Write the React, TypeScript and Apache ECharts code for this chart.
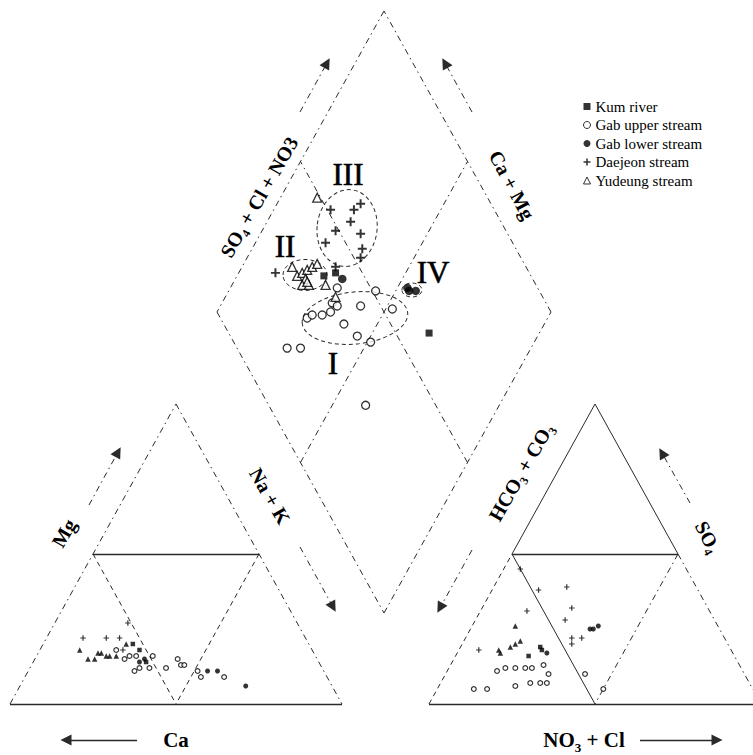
import { useEffect, useRef } from 'react';
import * as echarts from 'echarts';

// ---------- DATA ----------
const SERIES_NAMES = ['Kum river', 'Gab upper stream', 'Gab lower stream', 'Daejeon stream', 'Yudeung stream'];

// Cation triangle values: [Mg %, Na+K %]  (Ca = remainder)
const kumCation = [[20, 27], [18, 30], [14, 34]];
const gabUpperCation = [[18, 23], [15, 27], [16, 28], [16, 30], [12, 33], [11, 32], [12, 36], [16, 35], [12, 41], [15, 43], [13, 45], [13, 46], [11, 51], [9, 53], [9, 60]];
const gabLowerCation = [[14, 32], [15, 33], [11, 54], [11, 57], [6, 68]];
const daejeonCation = [[22, 11], [22, 18], [22, 22], [27, 22], [18, 25]];
const yudeungCation = [[18, 12], [15, 16], [15, 18], [17, 18], [17, 19], [16, 21], [16, 22], [16, 24], [20, 25]];

// Anion triangle values: [SO4 %, NO3+Cl %]  (HCO3+CO3 = remainder)
const kumAnion = [[19, 24], [18, 25], [16, 22]];
const gabUpperAnion = [[11, 15], [12, 17], [12, 20], [12, 23], [12, 25], [13, 28], [10, 31], [10, 42], [5, 11], [5, 15], [6, 23], [7, 27], [7, 30], [7, 32], [5, 50]];
const gabLowerAnion = [[25, 36], [25, 37], [26, 38], [17, 27]];
const daejeonAnion = [[45, 5], [38, 14], [39, 22], [31, 14], [32, 27], [28, 27], [22, 32], [22, 35], [20, 33], [18, 6]];
const yudeungAnion = [[26, 13], [21, 17], [20, 16], [19, 15], [18, 12], [17, 13]];

// Diamond values: [SO4+Cl+NO3 %, Ca+Mg %]
const kumDiamond = [[38, 74], [42, 71], [60, 33]];
const gabUpperDiamond = [[40, 68], [51, 56], [36, 67], [37, 65], [44, 58], [26, 72], [28, 71], [31, 68], [34, 66], [53, 48], [36, 60], [38, 54], [41, 49], [15, 73], [19, 69], [29, 40]];
const gabLowerDiamond = [[43, 68], [61, 47], [61, 46], [63, 44]];
const daejeonDiamond = [[51, 83], [58, 76], [61, 75], [49, 78], [55, 75], [44, 79], [56, 70], [54, 67], [52, 66], [24, 89], [43, 72]];
const yudeungDiamond = [[49, 89], [30, 85], [30, 82], [32, 81], [34, 80], [36, 79], [38, 78], [32, 79], [30, 79], [32, 77], [32, 78], [37, 72], [38, 67]];

// Groups (ellipses) in diamond values: [SO4+Cl+NO3 %, Ca+Mg %]
const groupLabels = ['I', 'II', 'III', 'IV'];
const groupCenters = [[40.3, 57.7], [32.5, 79.8], [52.9, 75.0], [62.0, 45.3]];

// ---------- LAYOUT ----------
const W = 753;
const H = 755;
const LEFT_TRI = { x0: 10, x1: 342, base: 704, apex: 404 };
const RIGHT_TRI = { x0: 429, x1: 761, base: 704, apex: 404 };
const DIAMOND = { cx: 384, cy: 312, hw: 167, hh: 301 };
const FONT = 'Liberation Serif';
const INK = '#2a2a2a';
const DASHDOT = [6, 4, 1.5, 4];
const DASH = [5, 4];

function triPoint(t: any, top: number, right: number) {
  const s = t.x1 - t.x0;
  const h = t.base - t.apex;
  return [t.x0 + (right / 100) * s + (top / 100) * s / 2, t.base - (top / 100) * h];
}
function diaPoint(u: number, v: number) {
  return [DIAMOND.cx + ((u - v) / 100) * DIAMOND.hw, DIAMOND.cy + DIAMOND.hh - ((u + v) / 100) * DIAMOND.hh];
}
const cat = (a: number, b: number) => triPoint(LEFT_TRI, a, b);
const an = (a: number, b: number) => triPoint(RIGHT_TRI, a, b);

const PLUS = 'path://M3.9,0H6.1V3.9H10V6.1H6.1V10H3.9V6.1H0V3.9H3.9Z';

const BLACK = { color: '#000' };
const OPEN = { color: '#fff', borderColor: '#000', borderWidth: 1.3 };

const MARKERS: any = {
  'Kum river': { symbol: 'rect', big: 7, small: 4.5, bigStyle: BLACK, smallStyle: BLACK },
  'Gab upper stream': { symbol: 'circle', big: 8, small: 4.8, bigStyle: OPEN, smallStyle: { color: '#fff', borderColor: '#000', borderWidth: 1.2 } },
  'Gab lower stream': { symbol: 'circle', big: 8.5, small: 5, bigStyle: BLACK, smallStyle: BLACK },
  'Daejeon stream': { symbol: PLUS, big: 9, small: 5.5, bigStyle: BLACK, smallStyle: BLACK },
  'Yudeung stream': { symbol: 'triangle', big: 9, small: 5.5, bigStyle: OPEN, smallStyle: BLACK },
};

const DATA: any = {
  'Kum river': [kumDiamond, kumCation, kumAnion],
  'Gab upper stream': [gabUpperDiamond, gabUpperCation, gabUpperAnion],
  'Gab lower stream': [gabLowerDiamond, gabLowerCation, gabLowerAnion],
  'Daejeon stream': [daejeonDiamond, daejeonCation, daejeonAnion],
  'Yudeung stream': [yudeungDiamond, yudeungCation, yudeungAnion],
};

function seg(a: number[], b: number[], type: any, width = 1) {
  return { coords: [a, b], lineStyle: { type, width, color: INK, opacity: 1 } };
}

function buildOption() {
  const frame = [
    // cation triangle
    seg(cat(0, 0), cat(100, 0), DASHDOT),
    seg(cat(100, 0), cat(0, 100), DASHDOT),
    seg(cat(0, 0), cat(0, 100), 'solid', 1.3),
    seg(cat(50, 0), cat(50, 50), 'solid', 1.3),
    seg(cat(50, 0), cat(0, 50), DASH),
    seg(cat(50, 50), cat(0, 50), DASH),
    // anion triangle
    seg(an(0, 0), an(50, 0), DASH),
    seg(an(50, 0), an(100, 0), 'solid'),
    seg(an(100, 0), an(50, 50), 'solid'),
    seg(an(50, 50), an(0, 100), DASHDOT),
    seg(an(0, 0), an(0, 100), 'solid', 1.3),
    seg(an(50, 0), an(50, 50), 'solid', 1.3),
    seg(an(50, 0), an(0, 50), 'solid'),
    seg(an(50, 50), an(0, 50), DASHDOT),
    // diamond
    seg(diaPoint(0, 0), diaPoint(100, 0), DASHDOT),
    seg(diaPoint(100, 0), diaPoint(100, 100), DASHDOT),
    seg(diaPoint(100, 100), diaPoint(0, 100), DASHDOT),
    seg(diaPoint(0, 100), diaPoint(0, 0), DASHDOT),
    seg(diaPoint(50, 0), diaPoint(50, 100), DASHDOT),
    seg(diaPoint(0, 50), diaPoint(100, 50), DASHDOT),
  ];

  const arrows = [
    seg([89, 505], [118, 452], DASHDOT),
    seg([300, 547], [333, 607], DASHDOT),
    seg([472, 550], [440, 608], DASHDOT),
    seg([690, 503], [662, 453], DASHDOT),
    seg([300, 112], [327, 63], DASHDOT),
    seg([472, 112], [445, 63], DASHDOT),
    seg([137, 740], [66, 740], 'solid', 1.3),
    seg([640, 740], [717, 740], 'solid', 1.3),
  ];

  const series: any[] = [
    {
      type: 'lines', coordinateSystem: 'cartesian2d', silent: true, z: 1,
      symbol: ['none', 'none'], data: frame, animation: false,
      lineStyle: { opacity: 1, color: INK },
    },
    {
      type: 'lines', coordinateSystem: 'cartesian2d', silent: true, z: 1,
      symbol: ['none', 'triangle'], symbolSize: 11, data: arrows, animation: false,
      lineStyle: { opacity: 1, color: '#000' },
      itemStyle: { color: '#000', opacity: 1 },
    },
  ];

  SERIES_NAMES.forEach((name) => {
    const m = MARKERS[name];
    const [dia] = DATA[name];
    series.push({
      name, type: 'scatter', silent: true, z: 3, symbol: m.symbol, symbolSize: m.big,
      itemStyle: m.bigStyle, data: dia.map((p: number[]) => diaPoint(p[0], p[1])),
    });
  });
  SERIES_NAMES.forEach((name) => {
    const m = MARKERS[name];
    const [, ca, anion] = DATA[name];
    series.push({
      name, type: 'scatter', silent: true, z: 3, symbol: m.symbol, symbolSize: m.small,
      itemStyle: m.smallStyle, data: ca.map((p: number[]) => cat(p[0], p[1])),
    });
    series.push({
      name, type: 'scatter', silent: true, z: 3, symbol: m.symbol, symbolSize: m.small,
      itemStyle: m.smallStyle, data: anion.map((p: number[]) => an(p[0], p[1])),
    });
  });

  const lbl = (size: number) => ({
    n: { fontFamily: FONT, fontWeight: 'bold', fontSize: size, fill: '#000', lineHeight: size + 6, verticalAlign: 'middle' },
    s: { fontFamily: FONT, fontWeight: 'bold', fontSize: Math.round(size * 0.62), fill: '#000', lineHeight: size + 6, verticalAlign: 'bottom' },
  });
  const deg = (d: number) => (d * Math.PI) / 180;
  const label = (text: string, x: number, y: number, rot: number, size = 20) => ({
    type: 'text', x, y, rotation: deg(rot), silent: true,
    style: { text, rich: lbl(size), align: 'center', verticalAlign: 'middle' },
  });

  const texts = [
    label('{n|SO}{s|4}{n| + Cl + NO3}', 259, 197, 60),
    label('{n|Ca + Mg}', 512, 185, -62),
    label('{n|Mg}', 64, 533, 60),
    label('{n|Na + K}', 270, 496, -60),
    label('{n|HCO}{s|3}{n| + CO}{s|3}', 521, 472, 60),
    label('{n|SO}{s|4}', 708, 537, -62),
    label('{n|Ca}', 176, 740, 0, 21),
    label('{n|NO}{s|3}{n| + Cl}', 584, 740, 0, 21),
  ];

  const romanPos = [[333, 363], [285, 246], [348, 174], [433, 272]];
  const romans = groupLabels.map((t, i) => ({
    type: 'text', x: romanPos[i][0], y: romanPos[i][1], silent: true,
    style: {
      text: t, fontFamily: FONT, fontSize: 31, fill: '#000', align: 'center', verticalAlign: 'middle',
      stroke: '#000', lineWidth: 0.6,
    },
  }));

  const ellipseSize = [[53, 26, 0.1], [22, 15.5, 0], [30, 38.5, -0.12], [10, 7, 0]];
  const ellipses = groupCenters.map((c, i) => {
    const p = diaPoint(c[0], c[1]);
    return {
      type: 'ellipse', x: p[0], y: p[1], rotation: ellipseSize[i][2], silent: true,
      shape: { cx: 0, cy: 0, rx: ellipseSize[i][0], ry: ellipseSize[i][1] },
      style: { fill: 'none', stroke: INK, lineWidth: 1, lineDash: [4, 3] },
    };
  });

  return {
    animation: false,
    backgroundColor: '#fff',
    grid: { left: 0, top: 0, right: 0, bottom: 0 },
    xAxis: { type: 'value', min: 0, max: W, show: false },
    yAxis: { type: 'value', min: 0, max: H, inverse: true, show: false },
    legend: {
      orient: 'vertical', left: 578, top: 94, itemWidth: 7, itemHeight: 7, itemGap: 3.5,
      selectedMode: false,
      textStyle: { fontFamily: FONT, fontSize: 15, color: '#000', lineHeight: 15 },
      data: [
        { name: 'Kum river', icon: 'rect', itemStyle: { color: '#000' } },
        { name: 'Gab upper stream', icon: 'circle', itemStyle: { color: '#fff', borderColor: '#000', borderWidth: 1 } },
        { name: 'Gab lower stream', icon: 'circle', itemStyle: { color: '#000' } },
        { name: 'Daejeon stream', icon: PLUS, itemStyle: { color: '#000' } },
        { name: 'Yudeung stream', icon: 'triangle', itemStyle: { color: '#fff', borderColor: '#000', borderWidth: 1 } },
      ],
    },
    series,
    graphic: [...ellipses, ...romans, ...texts],
  };
}

export default function App() {
  const ref = useRef<HTMLDivElement>(null);
  useEffect(() => {
    if (!ref.current) return;
    const chart = echarts.init(ref.current, undefined, { renderer: 'svg' });
    chart.setOption(buildOption() as any);
    return () => chart.dispose();
  }, []);
  return (
    <div
      ref={ref}
      style={{ position: 'absolute', left: 0, top: 0, width: W, height: H, background: '#fff' }}
    />
  );
}
